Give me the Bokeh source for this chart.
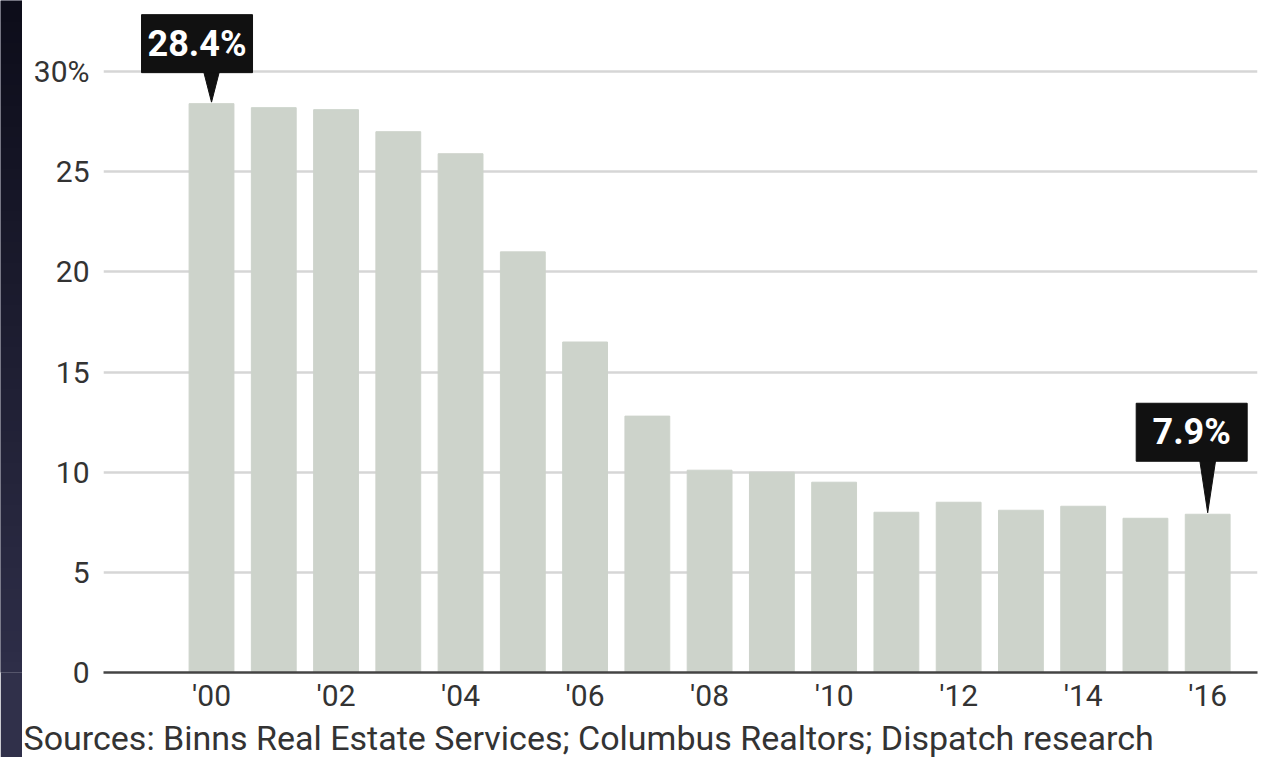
import numpy as np
from bokeh.plotting import figure
from bokeh.models import Range1d, FixedTicker, Title
from bokeh.layouts import row
from bokeh.embed import file_html
from bokeh.resources import INLINE
from bokeh.core.properties import value

# ---- data ----
years = [2000, 2001, 2002, 2003, 2004, 2005, 2006, 2007, 2008,
         2009, 2010, 2011, 2012, 2013, 2014, 2015, 2016]
share = [28.4, 28.2, 28.1, 27.0, 25.9, 21.0, 16.5, 12.8, 10.1,
         10.0, 9.5, 8.0, 8.5, 8.1, 8.3, 7.7, 7.9]
x_tick_years = [2000, 2002, 2004, 2006, 2008, 2010, 2012, 2014, 2016]
x_tick_labels = ["'00", "'02", "'04", "'06", "'08", "'10", "'12", "'14", "'16"]
y_ticks = [0, 5, 10, 15, 20, 25, 30]
y_tick_labels = ["0", "5", "10", "15", "20", "25", "30%"]
callout_years = [2000, 2016]
callout_text = ["28.4%", "7.9%"]
source_text = "Sources: Binns Real Estate Services; Columbus Realtors; Dispatch research"

# ---- styles ----
FONT = "Roboto"
BAR = "#cdd3cb"
TXT = "#333333"
X0, X1, Y0, Y1 = 1998.265, 2016.80, 0, 33.55
FRAME_W, FRAME_H = 1154, 672
PX_X = FRAME_W / (X1 - X0)
PX_Y = FRAME_H / (Y1 - Y0)
box_dx = [-14.5, -16]       # box centre offset from bar centre, px
box_dy = [60, 82]           # box centre height above bar top, px
box_w, box_h = 111, 58

callout_vals = [share[years.index(y)] for y in callout_years]

p = figure(width=1239, height=757, output_backend="svg", toolbar_location=None,
           x_range=Range1d(X0, X1), y_range=Range1d(Y0, Y1),
           min_border_left=81, min_border_right=4, min_border_top=0,
           min_border_bottom=85)
p.outline_line_color = None
p.background_fill_color = "white"
p.border_fill_color = "white"

p.vbar(x=years, top=share, width=0.72, color=BAR)

# callouts: box + pointer + text
bx = [yr + dx / PX_X for yr, dx in zip(callout_years, box_dx)]
by = [v + dy / PX_Y for v, dy in zip(callout_vals, box_dy)]
xs, ys = [], []
for yr, v, cy in zip(callout_years, callout_vals, by):
    base = cy - (box_h / 2 - 2) / PX_Y
    xs.append([yr - 0.13, yr + 0.13, yr])
    ys.append([base, base, v + 1.5 / PX_Y])
p.patches(xs, ys, color="#111111")
p.rect(x=bx, y=by, width=box_w, height=box_h, width_units="screen",
       height_units="screen", color="#111111")
p.text(x=bx, y=by, text=callout_text,
       text_align="center", text_baseline="middle",
       text_font=value(FONT), text_font_style="bold", text_font_size="36px",
       text_color="white")

# axes
for ax in (p.xaxis, p.yaxis):
    ax.major_tick_line_color = None
    ax.minor_tick_line_color = None
    ax.major_tick_out = 0
    ax.major_tick_in = 0
    ax.minor_tick_out = 0
    ax.minor_tick_in = 0
    ax.major_label_text_font = FONT
    ax.major_label_text_font_size = "30px"
    ax.major_label_text_color = TXT

p.xaxis.ticker = FixedTicker(ticks=x_tick_years)
p.xaxis.major_label_overrides = dict(zip(x_tick_years, x_tick_labels))
p.xaxis.axis_line_color = "#444444"
p.xaxis.axis_line_width = 2.5
p.xaxis.major_label_standoff = 5

p.yaxis.ticker = FixedTicker(ticks=y_ticks)
p.yaxis.major_label_overrides = dict(zip(y_ticks, y_tick_labels))
p.yaxis.axis_line_color = None
p.yaxis.major_label_standoff = 14

p.xgrid.grid_line_color = None
p.ygrid.ticker = FixedTicker(ticks=y_ticks[1:])
p.ygrid.grid_line_color = "#d6d6d6"
p.ygrid.grid_line_width = 2.5

src = Title(text=source_text, align="left", offset=-80, vertical_align="bottom",
            text_font=FONT, text_font_size="34px", text_font_style="normal",
            text_color=TXT, standoff=0)
p.add_layout(src, "below")

# dark band on the left edge
band = figure(width=22, height=757, output_backend="svg", toolbar_location=None,
              x_range=Range1d(0, 1), y_range=Range1d(0, 1),
              min_border=0, x_axis_location=None, y_axis_location=None)
band.outline_line_color = None
band.grid.visible = False
band.border_fill_color = "#30304a"
band.background_fill_color = "#30304a"
c0 = np.array([0x0d, 0x0d, 0x1a])
c1 = np.array([0x2e, 0x2e, 0x48])
pal = ["#%02x%02x%02x" % tuple(int(v) for v in c0 + (c1 - c0) * t)
       for t in np.linspace(0, 1, 256)]
grad = np.linspace(1, 0, 64).reshape(-1, 1)
band.image(image=[grad], x=0, y=0, dw=1, dh=1, palette=pal)

layout = row(band, p)
open("out.html", "w").write(file_html(layout, INLINE))
